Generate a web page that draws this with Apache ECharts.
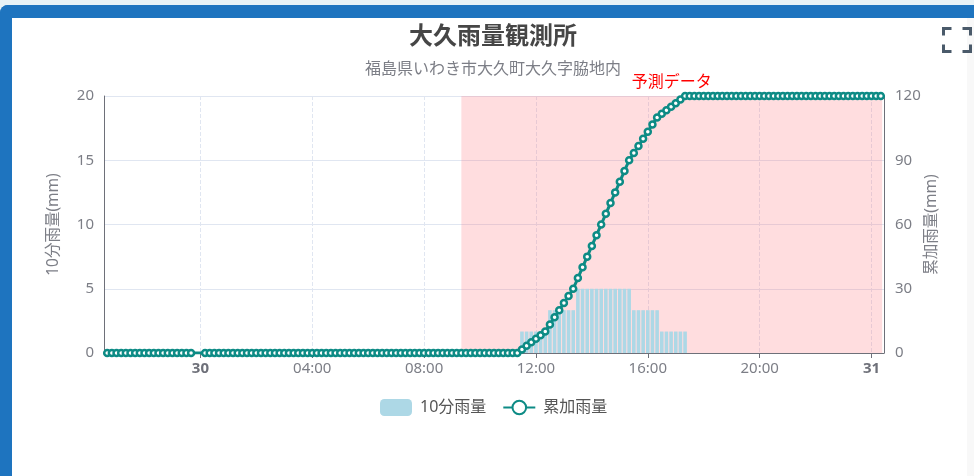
<!DOCTYPE html>
<html lang="ja">
<head>
<meta charset="utf-8">
<title>大久雨量観測所</title>
<style>
  html, body { margin: 0; padding: 0; width: 974px; height: 476px; overflow: hidden; background: #e8f2f6; }
  #panel { position: absolute; left: 0; top: 5px; width: 974px; height: 471px; box-sizing: border-box;
           background: #fff; border-left: 12px solid #1e74bf; border-top: 13px solid #1e74bf; border-top-left-radius: 8px; }
  #edge { position: absolute; left: 967px; top: 18px; width: 7px; height: 458px; background: #f8f8f8; }
  #chart { position: absolute; left: 0; top: 0; width: 974px; height: 476px; }
</style>
<script src="https://cdn.jsdelivr.net/npm/echarts@6/dist/echarts.min.js"></script>
</head>
<body>
<div id="panel"></div>
<div id="edge"></div>
<div id="chart"></div>
<script>
// Ten-minute readings from 29th 20:40 to 31st 00:20; null marks the two missing records.
const seriesStart = '2024-10-29T20:40:00';
const axisStart = '2024-10-29T20:37:00';
const axisEnd = '2024-10-31T00:23:00';
const forecastStart = '2024-10-30T09:20:00';
const forecastEnd = axisEnd;

const rain10min = [
  0, 0, 0, 0, 0, 0, 0, 0, 0, 0, 0, 0, 0, 0, 0, 0, 0, 0, 0,
  null, null,
  0, 0, 0, 0, 0, 0, 0, 0, 0, 0, 0, 0, 0, 0, 0, 0, 0, 0, 0, 0, 0, 0, 0, 0, 0, 0, 0, 0, 0, 0, 0, 0, 0, 0,
  0, 0, 0, 0, 0, 0, 0, 0, 0, 0, 0, 0, 0, 0, 0, 0, 0, 0, 0, 0, 0, 0, 0, 0, 0, 0, 0, 0, 0, 0, 0, 0, 0, 0,
  1.67, 1.67, 1.67, 1.67, 1.67, 1.67,
  3.33, 3.33, 3.33, 3.33, 3.33, 3.33,
  5, 5, 5, 5, 5, 5, 5, 5, 5, 5, 5, 5,
  3.33, 3.33, 3.33, 3.33, 3.33, 3.33,
  1.67, 1.67, 1.67, 1.67, 1.67, 1.67,
  0, 0, 0, 0, 0, 0, 0, 0, 0, 0, 0, 0, 0, 0, 0, 0, 0, 0, 0, 0, 0,
  0, 0, 0, 0, 0, 0, 0, 0, 0, 0, 0, 0, 0, 0, 0, 0, 0, 0, 0, 0, 0
];
const rainTotal = [
  0, 0, 0, 0, 0, 0, 0, 0, 0, 0, 0, 0, 0, 0, 0, 0, 0, 0, 0,
  null, null,
  0, 0, 0, 0, 0, 0, 0, 0, 0, 0, 0, 0, 0, 0, 0, 0, 0, 0, 0, 0, 0, 0, 0, 0, 0, 0, 0, 0, 0, 0, 0, 0, 0, 0,
  0, 0, 0, 0, 0, 0, 0, 0, 0, 0, 0, 0, 0, 0, 0, 0, 0, 0, 0, 0, 0, 0, 0, 0, 0, 0, 0, 0, 0, 0, 0, 0, 0, 0,
  1.67, 3.33, 5, 6.67, 8.33, 10,
  13.33, 16.67, 20, 23.33, 26.67, 30,
  35, 40, 45, 50, 55, 60, 65, 70, 75, 80, 85, 90,
  93.33, 96.67, 100, 103.33, 106.67, 110,
  111.67, 113.33, 115, 116.67, 118.33, 120,
  120, 120, 120, 120, 120, 120, 120, 120, 120, 120, 120, 120, 120, 120, 120, 120, 120, 120, 120, 120, 120,
  120, 120, 120, 120, 120, 120, 120, 120, 120, 120, 120, 120, 120, 120, 120, 120, 120, 120, 120, 120, 120
];

const TEN_MINUTES = 600000;
const FOUR_HOURS = 4 * 3600000;
const readingTimes = rain10min.map((_, i) => new Date(seriesStart).getTime() + i * TEN_MINUTES);
const withTime = values => values.map((v, i) => [readingTimes[i], v]);

const font = '"Noto Sans", "Noto Sans CJK JP", sans-serif';
const axisGrey = '#6e7079';
const labelGrey = '#7c7e86';
const teal = '#0d8b85';
const barBlue = '#add8e6';

const chart = echarts.init(document.getElementById('chart'), null, { renderer: 'canvas' });
chart.setOption({
  animation: false,
  backgroundColor: 'transparent',
  textStyle: { fontFamily: font },
  title: {
    text: '大久雨量観測所',
    subtext: '福島県いわき市大久町大久字脇地内',
    left: 488, textAlign: 'center', top: 20, itemGap: 12,
    textStyle: { fontFamily: font, fontSize: 24, fontWeight: 'bold', color: '#464646' },
    subtextStyle: { fontFamily: font, fontSize: 16, color: labelGrey }
  },
  toolbox: {
    right: -14, top: 11, itemSize: 27,
    iconStyle: { borderColor: '#4a5a6a', borderWidth: 3, color: 'none' },
    feature: {
      myFullscreen: {
        show: true, title: '',
        icon: 'path://M1 8V1H9M20 1H28V8M28 17V24H20M9 24H1V17',
        onclick: function () {}
      }
    }
  },
  legend: {
    left: 375, top: 394, itemGap: 16, itemWidth: 32, itemHeight: 17,
    textStyle: { fontFamily: font, fontSize: 16, color: '#555', padding: [0, 0, 0, 3] },
    data: ['10分雨量', '累加雨量']
  },
  grid: { left: 104, right: 90, top: 96, bottom: 123 },
  xAxis: {
    type: 'time',
    min: axisStart, max: axisEnd,
    minInterval: FOUR_HOURS, maxInterval: FOUR_HOURS,
    axisLine: { lineStyle: { color: axisGrey } },
    axisTick: { show: true, lineStyle: { color: axisGrey } },
    axisLabel: {
      fontFamily: font, fontSize: 15, color: labelGrey, margin: 8,
      hideOverlap: false,
      formatter: { day: '{strong|{d}}', hour: '{HH}:{mm}', minute: '{HH}:{mm}' },
      rich: { strong: { fontWeight: 'bold', fontSize: 15, color: axisGrey, fontFamily: font } }
    },
    splitLine: { show: true, lineStyle: { color: '#e0e6f1', type: 'dashed' } }
  },
  yAxis: [
    {
      type: 'value', min: 0, max: 20, interval: 5,
      name: '10分雨量(mm)', nameLocation: 'middle', nameGap: 43, nameRotate: 90, nameMoveOverlap: false,
      nameTextStyle: { fontFamily: font, fontSize: 15.5, color: labelGrey },
      axisLine: { show: true, lineStyle: { color: axisGrey } },
      axisTick: { show: false },
      axisLabel: { fontFamily: font, fontSize: 15, color: labelGrey, margin: 10 },
      splitLine: { show: true, lineStyle: { color: '#e0e6f1' } }
    },
    {
      type: 'value', min: 0, max: 120, interval: 30, position: 'right',
      name: '累加雨量(mm)', nameLocation: 'middle', nameGap: 40, nameRotate: 90, nameMoveOverlap: false,
      nameTextStyle: { fontFamily: font, fontSize: 15.5, color: labelGrey },
      axisLine: { show: true, lineStyle: { color: axisGrey } },
      axisTick: { show: false },
      axisLabel: { fontFamily: font, fontSize: 15, color: labelGrey, margin: 11 },
      splitLine: { show: false }
    }
  ],
  series: [
    {
      name: '10分雨量', type: 'bar', yAxisIndex: 0, barWidth: 3.6,
      itemStyle: { color: barBlue },
      data: withTime(rain10min),
      markArea: {
        silent: true,
        itemStyle: { color: 'rgba(255,100,110,0.22)' },
        label: { show: true, position: 'top', distance: 6, color: '#ff0000', fontFamily: font, fontSize: 16 },
        data: [[{ name: '予測データ', xAxis: forecastStart }, { xAxis: forecastEnd }]]
      }
    },
    {
      name: '累加雨量', type: 'line', yAxisIndex: 1, connectNulls: true,
      symbol: 'circle', symbolSize: 6, showSymbol: true, showAllSymbol: true,
      lineStyle: { color: teal, width: 3 },
      itemStyle: { color: '#fff', borderColor: teal, borderWidth: 2.5 },
      data: withTime(rainTotal)
    }
  ]
});
</script>
</body>
</html>
